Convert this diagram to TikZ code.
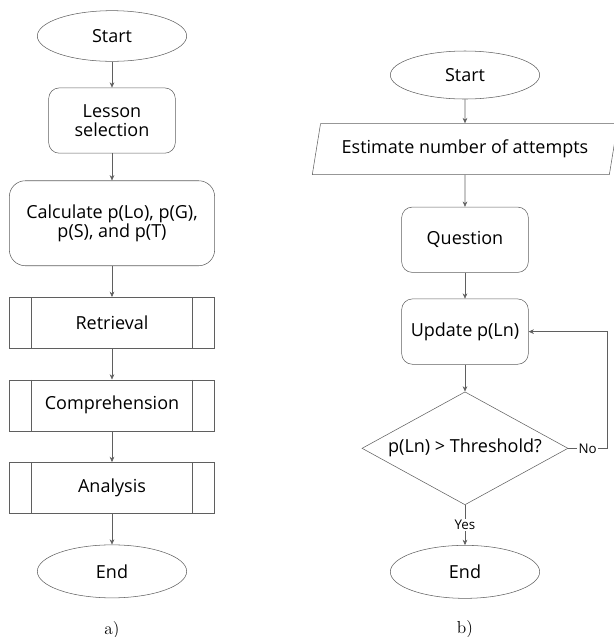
\documentclass[tikz,border=0pt]{standalone}
\usepackage{fontspec}
\setsansfont{Open Sans}
\usepackage{tikz}
\usepackage{xcolor}
\usetikzlibrary{arrows.meta, positioning, shapes.geometric, calc}
\definecolor{mygray}{RGB}{95,95,95}

\begin{document}
\begin{tikzpicture}[
    node distance=19.5pt, % vertical distance
    every node/.style={font=\sffamily\fontsize{13.5}{16}\selectfont},
    terminal/.style={
        ellipse,
        draw=mygray,
        minimum width=112pt,
        minimum height=38pt,
        inner sep=1pt
    },
    block/.style={
        rectangle,
        draw=mygray,
        rounded corners=8pt,
        minimum width=95pt,
        minimum height=49pt,
        align=center
    },
    subproc/.style={
        rectangle,
        draw=mygray,
        minimum width=154pt,
        minimum height=38.25pt,
        path picture={
            \draw[mygray] ([xshift=16.5pt]path picture bounding box.north west)
                -- ([xshift=16.5pt]path picture bounding box.south west);
            \draw[mygray] ([xshift=-16.5pt]path picture bounding box.north east)
                -- ([xshift=-16.5pt]path picture bounding box.south east);
        }
    },
    iobox/.style={
        trapezium,
        trapezium left angle=73,
        trapezium right angle=107,
        trapezium stretches body,
        draw=mygray,
        minimum width=229pt,
        minimum height=38.25pt
    },
    decision/.style={
        diamond,
        draw=mygray,
        aspect=1.8,
        inner sep=0pt,
        minimum width=154.5pt,
        minimum height=84.75pt
    },
    arrow/.style={mygray, -{Stealth[length=4pt, width=3.5pt]}},
    label/.style={font=\sffamily\fontsize{10}{12}\selectfont, text=black, fill=white, inner sep=1pt},
    caption/.style={font=\rmfamily\fontsize{13}{15}\selectfont}
]
\useasboundingbox (0,0) rectangle (460.5pt,-477.75pt);

% ========== a) ==========
\node[terminal] (start1) at (84pt,-27pt) {Start};
\node[block, below=19.5pt of start1] (lesson) {Lesson\\[-2pt]selection};
\node[block, rounded corners=12pt, minimum width=154pt, minimum height=63.75pt,
      below=20.25pt of lesson] (calc) {Calculate p(Lo), p(G),\\[-2pt]p(S), and p(T)};
\node[subproc, below=23.25pt of calc] (retr) {Retrieval};
\node[subproc, below=23.25pt of retr] (comp) {Comprehension};
\node[subproc, below=23.25pt of comp] (anal) {Analysis};
\node[terminal, minimum height=39.75pt, below=23.25pt of anal] (end1) {End};
\node[caption, below=14pt of end1] (capa) {a)};

\draw[arrow] (start1) -- (lesson);
\draw[arrow] (lesson) -- (calc);
\draw[arrow] (calc) -- (retr);
\draw[arrow] (retr) -- (comp);
\draw[arrow] (comp) -- (anal);
\draw[arrow] (anal) -- (end1);

% ========== b) ==========
\node[terminal, minimum height=36pt] (start2) at (348.75pt,-56.25pt) {Start};
\node[iobox, below=18pt of start2] (estim) {Estimate number of attempts};
\node[block, below=24pt of estim] (quest) {Question};
\node[block, below=19.5pt of quest] (update) {Update p(Ln)};
\node[decision, below=20.25pt of update] (thresh) {p(Ln) > Threshold?};
\node[terminal, minimum height=39.75pt, below=30pt of thresh] (end2) {End};
\node[caption, below=13pt of end2] (capb) {b)};

\draw[arrow] (start2) -- (estim);
\draw[arrow] (estim) -- (quest);
\draw[arrow] (quest) -- (update);
\draw[arrow] (update) -- (thresh);
\draw[arrow] (thresh) -- node[label] {Yes} (end2);
\draw[arrow] (thresh.east) -- node[label] {No} ++(29pt,0) |- (update.east);

\end{tikzpicture}
\end{document}
